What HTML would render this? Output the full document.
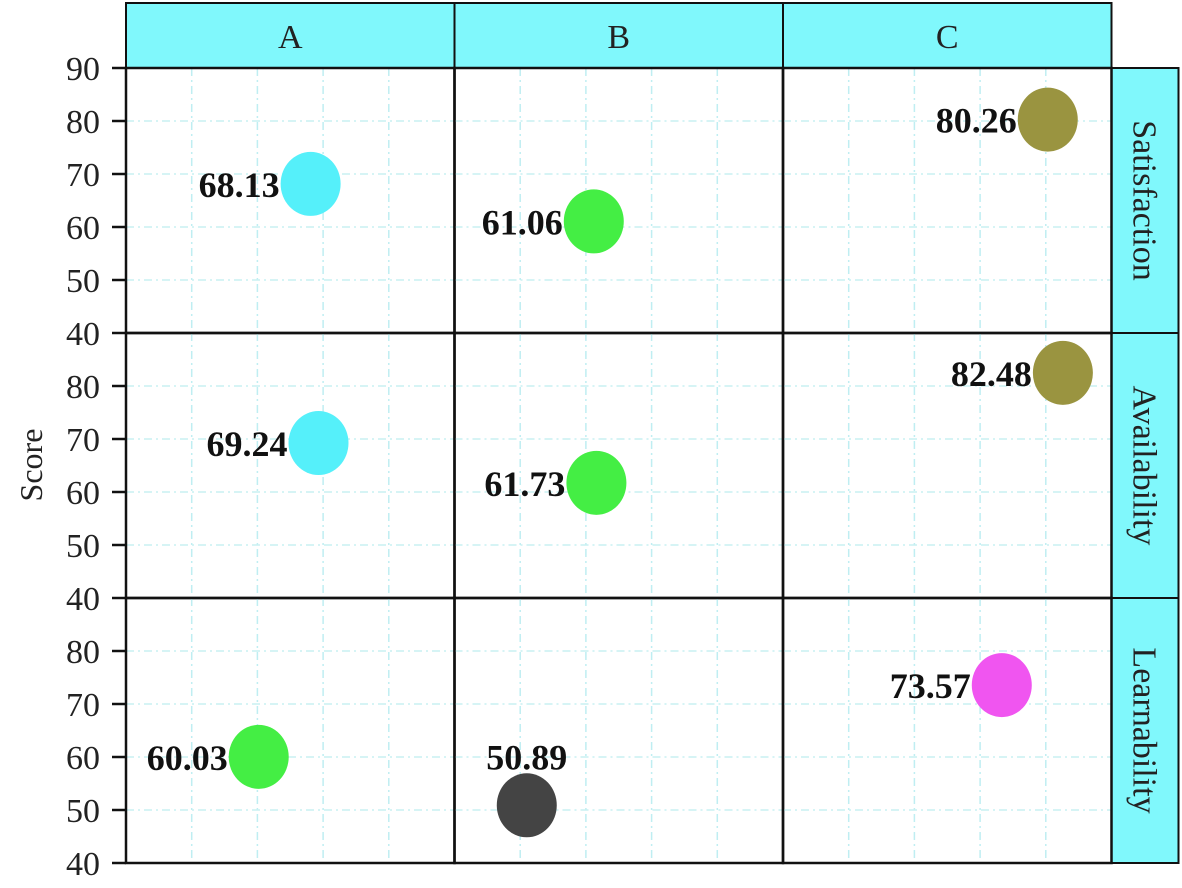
<!DOCTYPE html>
<html><head><meta charset="utf-8"><style>
html,body{margin:0;padding:0;background:#fff;}
svg{display:block;font-family:"Liberation Serif",serif;}
</style></head><body>
<svg id="chart" width="1182" height="888" viewBox="0 0 1182 888">
<text x="42" y="465" font-size="32" text-anchor="middle" transform="rotate(-90 42 465)" fill="#222">Score</text>
</svg>
<script>
const cols = ["A","B","C"];
const rows = ["Satisfaction","Availability","Learnability"];
const yTicks = [40,50,60,70,80,90];
const xVals = [[2.81,2.12,4.03],[2.93,2.16,4.26],[2.02,1.10,3.33]];
const scores = [[68.13,61.06,80.26],[69.24,61.73,82.48],[60.03,50.89,73.57]];
const colors = [["#55f0fa","#44ee44","#9a9440"],["#55f0fa","#44ee44","#9a9440"],["#44ee44","#444444","#f055f0"]];
const labelPos = [["left","left","left"],["left","left","left"],["left","top","left"]];

const NS="http://www.w3.org/2000/svg";
const svg=document.getElementById('chart');
const X0=126, PW=328.5, Y0=68, PH=265, YMIN=40, YMAX=90, XMIN=0, XMAX=5;
function mk(t,a,p){const e=document.createElementNS(NS,t);for(const k in a)e.setAttribute(k,a[k]);(p||svg).appendChild(e);return e;}
function sx(c,v){return X0+c*PW+(v-XMIN)/(XMAX-XMIN)*PW;}
function sy(r,v){return Y0+r*PH+(YMAX-v)/(YMAX-YMIN)*PH;}

cols.forEach((c,i)=>{
  const r=mk('rect',{x:X0+i*PW,y:3,width:PW,height:Y0-3,fill:'#80f8fc',stroke:'#111','stroke-width':2});
  
  
  const t=mk('text',{x:X0+i*PW+PW/2,y:48,'font-size':34,'text-anchor':'middle',fill:'#222'});
  t.textContent=c;
  
  
});
rows.forEach((rn,j)=>{
  const r=mk('rect',{x:X0+3*PW,y:Y0+j*PH,width:67,height:PH,fill:'#80f8fc',stroke:'#111','stroke-width':2});
  
  
  const cx=X0+3*PW+33, cy=Y0+j*PH+PH/2;
  const t=mk('text',{x:cx,y:cy+11,'font-size':34,'text-anchor':'middle',fill:'#222',transform:`rotate(90 ${cx} ${cy})`});
  t.textContent=rn;
  
  
});
for(let j=0;j<3;j++){
  for(let i=0;i<3;i++){
    const g=mk('g',{});
    
    
    for(let k=1;k<5;k++){
      const x=sx(i,k);
      const l=mk('line',{x1:x,x2:x,y1:Y0+j*PH,y2:Y0+(j+1)*PH,stroke:'#bfeef2','stroke-width':1.5,'stroke-dasharray':'8 4 2 4'},g);
      
      
    }
    yTicks.forEach(v=>{ if(v===YMIN||v===YMAX) return;
      const y=sy(j,v);
      const l=mk('line',{x1:X0+i*PW,x2:X0+(i+1)*PW,y1:y,y2:y,stroke:'#c8f0f2','stroke-width':1.5,'stroke-dasharray':'8 4 2 4'},g);
      
      
    });
    const b=mk('rect',{x:X0+i*PW,y:Y0+j*PH,width:PW,height:PH,fill:'none',stroke:'#111','stroke-width':2.5},g);
    
    
    const px=sx(i,xVals[j][i]), py=sy(j,scores[j][i]);
    const e=mk('ellipse',{cx:px,cy:py,rx:30,ry:32,fill:colors[j][i]},g);
    
    
    const t=mk('text',{'font-size':36,'font-weight':'bold',fill:'#111'},g);
    if(labelPos[j][i]==='top'){t.setAttribute('x',px);t.setAttribute('y',py-36);t.setAttribute('text-anchor','middle');}
    else{t.setAttribute('x',px-31);t.setAttribute('y',py+13);t.setAttribute('text-anchor','end');}
    t.textContent=scores[j][i].toFixed(2);
    
    
  }
  yTicks.forEach(v=>{
    if(v===YMAX && j>0) return;
    const y=sy(j,v);
    const tk=mk('line',{x1:112,x2:X0,y1:y,y2:y,stroke:'#111','stroke-width':2.5});
    
    
    const t=mk('text',{x:100,y:y+12,'font-size':34,'text-anchor':'end',fill:'#222'});
    t.textContent=v;
    
    
  });
}
</script>
</body></html>
